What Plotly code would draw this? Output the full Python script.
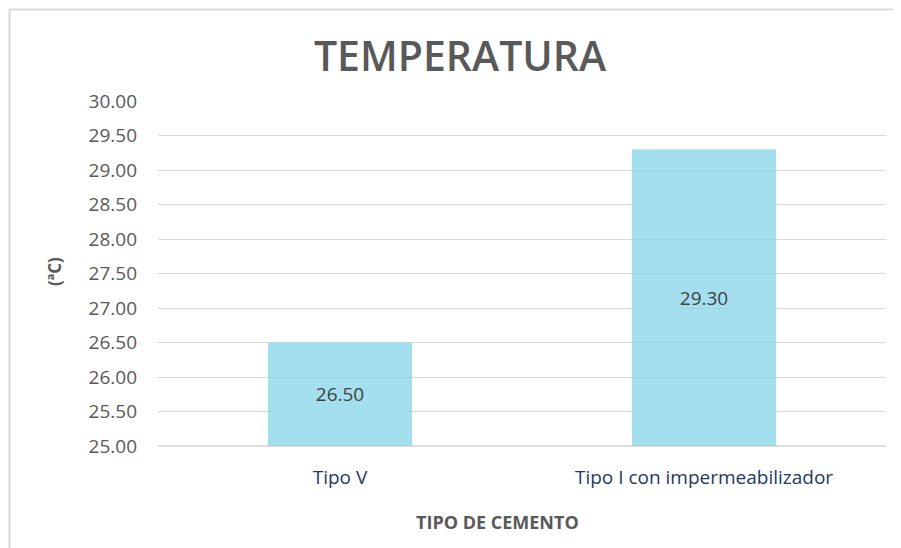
import plotly.graph_objects as go

categories = ["Tipo V", "Tipo I con impermeabilizador"]
values = [26.50, 29.30]
axis_base = 25.0
y_ticks = [25.0, 25.5, 26.0, 26.5, 27.0, 27.5, 28.0, 28.5, 29.0, 29.5, 30.0]
y_tick_labels = [f"{v:.2f}" for v in y_ticks]

font_main = "Open Sans, Lato, Noto Sans, sans-serif"

# page body has an 8px margin; figure coordinates are offset by it
OFF = 8
W, H = 901 - OFF, 548 - OFF
L, T = 158 - OFF, 101 - OFF
R = W - (886 - OFF)
B = H - (446 - OFF)
pw, ph = W - L - R, H - T - B

fig = go.Figure()
fig.add_trace(go.Bar(
    x=categories,
    y=[v - axis_base for v in values],
    base=axis_base,
    marker=dict(color="rgba(133,212,235,0.75)", line=dict(width=0)),
    width=0.396,
    text=[f"{v:.2f}" for v in values],
    textposition="inside",
    insidetextanchor="middle",
    textangle=0,
    textfont=dict(family=font_main, size=19, color="#404040"),
    hoverinfo="skip",
    cliponaxis=False,
))

fig.update_layout(
    width=W, height=H,
    margin=dict(l=L, r=R, t=T, b=B, autoexpand=False),
    paper_bgcolor="white",
    plot_bgcolor="white",
    showlegend=False,
    uniformtext=dict(mode=False),
    title=dict(
        text="TEMPERATURA",
        x=(460 - OFF) / W, xanchor="center",
        y=1 - (57 - OFF) / H, yanchor="middle",
        font=dict(family=font_main, size=41, color="#595959", weight=600),
    ),
    xaxis=dict(
        showgrid=False,
        showline=False,
        ticks="",
        tickfont=dict(family=font_main, size=19, color="#1F3864"),
        ticklabelstandoff=18,
    ),
    yaxis=dict(
        range=[25, 30],
        tickvals=y_ticks,
        ticktext=y_tick_labels,
        showgrid=True,
        gridcolor="#D9D9D9",
        gridwidth=1,
        zeroline=False,
        showline=False,
        ticks="",
        tickfont=dict(family=font_main, size=19, color="#595959"),
        ticklabelstandoff=20,
    ),
)

# axis line at the bottom (25.00)
fig.add_shape(type="line", xref="paper", yref="paper",
              x0=0, x1=1, y0=0, y1=0,
              line=dict(color="#BFBFBF", width=1))

# axis titles
fig.add_annotation(text="<b>TIPO DE CEMENTO</b>", xref="paper", yref="paper",
                   x=(497 - L - OFF) / pw, y=-(522 - 446) / ph,
                   xanchor="center", yanchor="middle", showarrow=False,
                   font=dict(family=font_main, size=18, color="#595959"))
fig.add_annotation(text="<b>(ªC)</b>", xref="paper", yref="paper",
                   x=(54 - L - OFF) / pw, y=(446 - 272) / ph,
                   xanchor="center", yanchor="middle", showarrow=False,
                   textangle=-90,
                   font=dict(family=font_main, size=17, color="#595959"))

# chart border (top and left edges visible)
bx = (9.5 - OFF - L) / pw
by = (H - B - (9.5 - OFF)) / ph
fig.add_shape(type="line", xref="paper", yref="paper",
              x0=bx, x1=(W - L + 5) / pw, y0=by, y1=by,
              line=dict(color="#D9D9D9", width=2))
fig.add_shape(type="line", xref="paper", yref="paper",
              x0=bx, x1=bx, y0=by, y1=-(B + 5) / ph,
              line=dict(color="#D9D9D9", width=2))

fig.write_html("out.html")
